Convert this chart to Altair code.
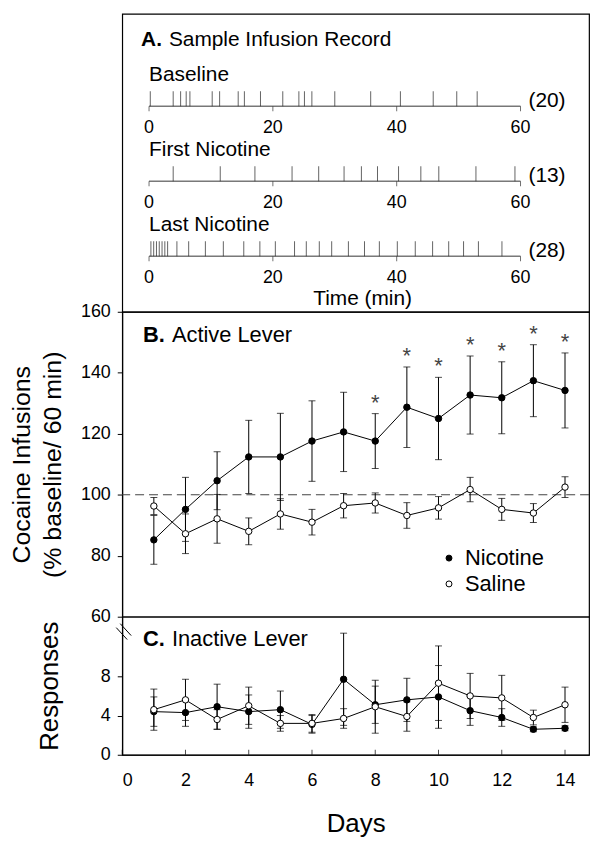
import altair as alt
import pandas as pd

# ---------------- Panel A data ----------------
rows = ["Baseline", "First Nicotine", "Last Nicotine"]
counts = ["(20)", "(13)", "(28)"]
baseline_times = [0.2, 3.9, 5.1, 6.0, 6.6, 10.2, 11.4, 14.4, 15.4, 18.0, 21.6, 24.2,
                  25.1, 26.3, 30.0, 35.8, 40.6, 45.9, 49.7, 53.0]
first_nic_times = [3.9, 11.5, 17.1, 23.1, 27.4, 31.5, 34.3, 36.9, 40.3, 43.9, 46.8, 52.8, 59.1]
last_nic_times = [0.3, 0.75, 1.2, 1.65, 2.1, 2.55, 3.0, 4.5, 6.4, 9.1, 12.0, 15.3, 17.9,
                  20.4, 23.5, 25.4, 27.5, 29.5, 32.2, 34.8, 37.2, 40.1, 43.0, 45.8, 48.4,
                  50.8, 53.2, 57.0]
time_ticks = [0, 20, 40, 60]

# ---------------- Panel B data ----------------
days = list(range(1, 15))
nic_b = [85.2, 95.2, 104.6, 112.4, 112.4, 117.6, 120.6, 117.6, 128.7, 125.0, 132.7, 131.8, 137.4, 134.2]
nic_b_se = [8.0, 10.5, 9.5, 12.0, 14.3, 13.2, 13.0, 9.0, 13.2, 13.5, 12.8, 11.8, 11.8, 12.3]
sal_b = [96.3, 87.2, 92.1, 88.0, 93.7, 91.0, 96.4, 97.3, 93.2, 95.7, 101.7, 95.2, 94.0, 102.5]
sal_b_se = [2.8, 6.5, 8.0, 4.4, 5.0, 4.2, 4.0, 3.3, 4.2, 3.7, 4.0, 3.6, 3.1, 3.4]
sig_days = [8, 9, 10, 11, 12, 13, 14]

# ---------------- Panel C data ----------------
nic_c = [4.4, 4.3, 4.9, 4.4, 4.6, 3.1, 7.7, 5.1, 5.6, 5.9, 4.5, 3.8, 2.6, 2.7]
nic_c_se = [1.5, 1.4, 2.3, 1.7, 1.9, 0.9, 4.7, 1.9, 2.2, 3.2, 1.5, 0.9, 0.25, 0.25]
sal_c = [4.6, 5.6, 3.6, 5.0, 3.2, 3.2, 3.7, 4.9, 3.9, 7.3, 6.0, 5.8, 3.8, 5.1]
sal_c_se = [2.1, 2.1, 1.0, 1.9, 0.8, 0.9, 1.0, 2.7, 1.5, 3.8, 2.3, 2.3, 0.75, 1.8]
day_ticks = [0, 2, 4, 6, 8, 10, 12, 14]

FONT = "Liberation Sans"
W = 470

# ================= Panel A =================
inf = pd.DataFrame(
    [{"row": rows[0], "t": t} for t in baseline_times]
    + [{"row": rows[1], "t": t} for t in first_nic_times]
    + [{"row": rows[2], "t": t} for t in last_nic_times]
)
rowdf = pd.DataFrame({"row": rows, "count": counts, "start": 0, "end": 60})
tickdf = pd.DataFrame([{"row": r, "v": v, "lab": str(v)} for r in rows for v in time_ticks])

xA = alt.Scale(domain=[0, 60], range=[27, 401], nice=False, zero=False)
yA = alt.Scale(type="point", domain=rows, range=[93, 244], padding=0)
Y_A = alt.Y("row:N", scale=yA, axis=None)

a_inf = alt.Chart(inf).mark_tick(orient="vertical", size=15, thickness=1, color="#222", yOffset=-7.5).encode(
    x=alt.X("t:Q", scale=xA, axis=None), y=Y_A)
a_axis = alt.Chart(rowdf).mark_rule(color="#333", strokeWidth=1).encode(
    x=alt.X("start:Q", scale=xA, axis=None), x2="end:Q", y=Y_A)
a_ticks = alt.Chart(tickdf).mark_tick(orient="vertical", size=5, thickness=1, color="#333", yOffset=2.5).encode(
    x=alt.X("v:Q", scale=xA, axis=None), y=Y_A)
a_labs = alt.Chart(tickdf).mark_text(fontSize=18, dy=22, baseline="middle", font=FONT).encode(
    x=alt.X("v:Q", scale=xA, axis=None), y=Y_A, text="lab:N")
a_names = alt.Chart(rowdf).mark_text(align="left", baseline="middle", fontSize=21, dy=-31, font=FONT).encode(
    x=alt.value(27), y=Y_A, text="row:N")
a_counts = alt.Chart(rowdf).mark_text(align="left", baseline="middle", fontSize=21, dy=-5, font=FONT).encode(
    x=alt.value(409), y=Y_A, text="count:N")
one = pd.DataFrame({"k": [0]})
a_t1 = alt.Chart(one).mark_text(text="A.", fontWeight="bold", fontSize=21, align="left", baseline="middle", font=FONT).encode(
    x=alt.value(19), y=alt.value(26))
a_t2 = alt.Chart(one).mark_text(text="Sample Infusion Record", fontSize=21, align="left", baseline="middle", font=FONT).encode(
    x=alt.value(47), y=alt.value(26))
a_t3 = alt.Chart(one).mark_text(text="Time (min)", fontSize=21, align="center", baseline="middle", font=FONT).encode(
    x=alt.value(242), y=alt.value(287))

panelA = alt.layer(a_axis, a_ticks, a_inf, a_labs, a_names, a_counts, a_t1, a_t2, a_t3).properties(width=W, height=300)


# ================= helpers =================
def long_df(n, nse, s, sse):
    recs = []
    for d, m, e in zip(days, n, nse):
        recs.append({"day": d, "series": "Nicotine", "mean": m, "lo": m - e, "hi": m + e})
    for d, m, e in zip(days, s, sse):
        recs.append({"day": d, "series": "Saline", "mean": m, "lo": m - e, "hi": m + e})
    return pd.DataFrame(recs)


xD = alt.Scale(domain=[0, 14.76], nice=False, zero=False)
fill_scale = alt.Scale(domain=["Nicotine", "Saline"], range=["black", "white"])


def data_layers(df, Yfn, legend, xaxis):
    base = alt.Chart(df)
    X = alt.X("day:Q", scale=xD, axis=xaxis)
    rule = base.mark_rule(color="black", strokeWidth=1).encode(x=X, y=Yfn("lo"), y2="hi:Q")
    cap_lo = base.mark_tick(orient="horizontal", size=7, thickness=1, color="black").encode(x=X, y=Yfn("lo"))
    cap_hi = base.mark_tick(orient="horizontal", size=7, thickness=1, color="black").encode(x=X, y=Yfn("hi"))
    line = base.mark_line(color="black", strokeWidth=1).encode(x=X, y=Yfn("mean"), detail="series:N")
    pts = base.mark_circle(size=42, stroke="black", strokeWidth=1, opacity=1).encode(
        x=X, y=Yfn("mean"),
        fill=alt.Fill("series:N", scale=fill_scale, legend=legend))
    return [rule, cap_lo, cap_hi, line, pts]


# ================= Panel B =================
dfB = long_df(nic_b, nic_b_se, sal_b, sal_b_se)
yB = alt.Scale(domain=[60, 160], nice=False, zero=False)
axisB = alt.Axis(values=[60, 80, 100, 120, 140, 160], title=["Cocaine Infusions", "(% baseline/ 60 min)"],
                 titleFontSize=25, titleLineHeight=31, titleFontWeight="normal", titlePadding=15,
                 labelFontSize=18, tickSize=5, labelPadding=7, grid=False)


def YB(f):
    return alt.Y(f + ":Q", scale=yB, axis=axisB)


legB = alt.Legend(orient="none", legendX=318, legendY=237, title=None, labelFontSize=22, labelFont=FONT,
                  symbolSize=36, symbolType="circle", symbolStrokeColor="black", symbolStrokeWidth=1,
                  rowPadding=4, labelOffset=5, padding=0)

dash = alt.Chart(one).mark_rule(strokeDash=[9, 5], color="#444", strokeWidth=1.2).encode(y=alt.datum(100))
sigdf = dfB[(dfB.series == "Nicotine") & (dfB.day.isin(sig_days))]
stars = alt.Chart(sigdf).mark_text(text="*", fontSize=22, color="#444", baseline="alphabetic", dy=-4, font=FONT).encode(
    x=alt.X("day:Q", scale=xD, axis=None), y=alt.Y("hi:Q", scale=yB))
b_t1 = alt.Chart(one).mark_text(text="B.", fontWeight="bold", fontSize=22, align="left", baseline="middle", font=FONT).encode(
    x=alt.value(21), y=alt.value(23))
b_t2 = alt.Chart(one).mark_text(text="Active Lever", fontSize=22, align="left", baseline="middle", font=FONT).encode(
    x=alt.value(50), y=alt.value(23))

panelB = alt.layer(dash, *data_layers(dfB, YB, legB, None), stars, b_t1, b_t2).properties(width=W, height=307)

# ================= Panel C =================
dfC = long_df(nic_c, nic_c_se, sal_c, sal_c_se)
yC = alt.Scale(domain=[0, 14.08], nice=False, zero=False)
axisC = alt.Axis(values=[0, 2, 4, 6, 8, 10], labelExpr="datum.value % 4 == 0 ? datum.label : ''",
                 title="Responses", titleFontSize=26, titleFontWeight="normal", titlePadding=38,
                 labelFontSize=18, tickSize=5, labelPadding=7, grid=False)


def YC(f):
    return alt.Y(f + ":Q", scale=yC, axis=axisC)


xaxisC = alt.Axis(values=day_ticks, title="Days", titleFontSize=26, titleFontWeight="normal", titlePadding=21,
                  labelFontSize=18, tickSize=0, labelPadding=17, grid=False)
xticks = alt.Chart(pd.DataFrame({"d": day_ticks})).mark_tick(
    orient="vertical", size=5, thickness=1, color="black", yOffset=-2.5).encode(
    x=alt.X("d:Q", scale=xD, axis=xaxisC), y=alt.datum(0))
brk1 = alt.Chart(one).mark_rule(color="black", strokeWidth=1).encode(
    x=alt.value(-6), x2=alt.value(5), y=alt.value(11), y2=alt.value(23))
brk2 = alt.Chart(one).mark_rule(color="black", strokeWidth=1).encode(
    x=alt.value(-2), x2=alt.value(9), y=alt.value(7), y2=alt.value(19))
c_t1 = alt.Chart(one).mark_text(text="C.", fontWeight="bold", fontSize=22, align="left", baseline="middle", font=FONT).encode(
    x=alt.value(21), y=alt.value(22))
c_t2 = alt.Chart(one).mark_text(text="Inactive Lever", fontSize=22, align="left", baseline="middle", font=FONT).encode(
    x=alt.value(50), y=alt.value(22))

panelC = alt.layer(xticks, *data_layers(dfC, YC, None, xaxisC), brk1, brk2, c_t1, c_t2).properties(width=W, height=139)

chart = alt.vconcat(panelA, panelB, panelC, spacing=0, bounds="flush").resolve_scale(
    fill="independent").resolve_legend(fill="independent").properties(
    padding={"left": 1, "top": 2, "right": 5, "bottom": 5}
).configure(font=FONT).configure_view(stroke="black", strokeWidth=1.2).configure_axis(
    labelFont=FONT, titleFont=FONT, labelColor="black", titleColor="black",
    domainColor="black", tickColor="black", grid=False)

chart.save("out.html", embed_options={"renderer": "svg", "actions": False})
